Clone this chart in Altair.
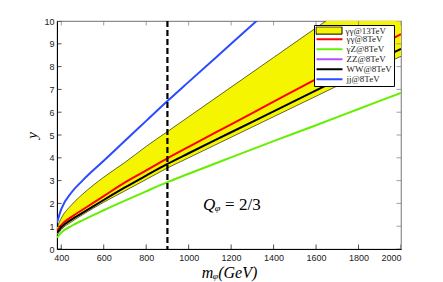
import altair as alt
import pandas as pd

# ---- data ----
mass = [380, 400, 450, 500, 600, 700, 800, 900, 1000, 1200, 1400, 1600, 1800, 2000]
band_hi = [0.95, 1.35, 1.95, 2.4, 3.15, 3.8, 4.5, 5.15, 5.8, 7.1, 8.4, 9.7, 11.0, 12.3]
band_lo = [0.6, 0.85, 1.2, 1.5, 2.05, 2.55, 3.05, 3.55, 4.0, 4.9, 5.8, 6.7, 7.6, 8.45]
aa8 = [0.8, 1.05, 1.42, 1.72, 2.32, 2.92, 3.45, 3.98, 4.48, 5.47, 6.46, 7.45, 8.44, 9.42]
az8 = [0.5, 0.72, 1.02, 1.26, 1.7, 2.12, 2.53, 2.93, 3.3, 4.02, 4.73, 5.43, 6.14, 6.85]
ww8 = [0.7, 0.95, 1.3, 1.58, 2.15, 2.7, 3.22, 3.73, 4.2, 5.12, 6.04, 6.96, 7.88, 8.78]
mass_jj = [380, 400, 450, 500, 600, 700, 800, 900, 1000, 1200, 1400]
jj8 = [1.15, 1.75, 2.5, 3.0, 3.87, 4.75, 5.62, 6.49, 7.33, 9.0, 10.67]

band_name = "γγ@13TeV"
series_names = ["γγ@8TeV", "γZ@8TeV", "ZZ@8TeV", "WW@8TeV", "jj@8TeV"]
series_colors = ["#ff0000", "#66ee00", "#b44cff", "#000000", "#2a4bff"]
band_color = "#f5f500"

x_ticks = [400, 600, 800, 1000, 1200, 1400, 1600, 1800, 2000]
y_ticks = [0, 1, 2, 3, 4, 5, 6, 7, 8, 9, 10]
x_domain = [380, 2000]
y_domain = [0, 10]
m_cut = [900]

x_title = "mᵩ(GeV)"
y_title = "y"
q_label = "Qᵩ"
q_value = "=  2/3"
q_pos = [1068, 1.93]

# ---- tables ----
band_df = pd.DataFrame({"m": mass, "hi": band_hi, "lo": band_lo, "name": band_name})
rows = []
for name, xs_, ys_ in [
    ("γγ@8TeV", mass, aa8),
    ("γZ@8TeV", mass, az8),
    ("WW@8TeV", mass, ww8),
    ("jj@8TeV", mass_jj, jj8),
]:
    for a, b in zip(xs_, ys_):
        rows.append({"m": a, "y": b, "series": name})
lines_df = pd.DataFrame(rows)
xt_df = pd.DataFrame({"m": x_ticks})
yt_df = pd.DataFrame({"y": y_ticks})
cut_df = pd.DataFrame({"m": m_cut})

serif = "Liberation Serif"
sans = "Liberation Sans"

xs = alt.Scale(domain=x_domain, nice=False, zero=False)
ys = alt.Scale(domain=y_domain, nice=False)
x_axis = alt.Axis(values=x_ticks, ticks=False, grid=False, domainColor="black", format="d",
                  labelOverlap=False,
                  labelFont=sans, labelFontSize=9, labelColor="#222", labelPadding=4,
                  title=x_title, titleFont=serif, titleFontStyle="italic",
                  titleFontWeight="normal", titleFontSize=16, titlePadding=2)
y_axis = alt.Axis(values=y_ticks, ticks=False, grid=False, domainColor="black", format="d",
                  labelOverlap=False,
                  labelFont=sans, labelFontSize=9, labelColor="#222", labelPadding=3,
                  title=y_title, titleFont=serif, titleFontStyle="italic",
                  titleFontWeight="normal", titleFontSize=15, titlePadding=4)

X = alt.X("m:Q", scale=xs, axis=x_axis)


def xd(v):
    return alt.XDatum(v, type="quantitative", scale=xs, axis=x_axis)


def yd(v):
    return alt.YDatum(v, type="quantitative", scale=ys, axis=y_axis)


band = alt.Chart(band_df).mark_area(clip=True, interpolate="monotone").encode(
    x=X,
    y=alt.Y("hi:Q", scale=ys, axis=y_axis),
    y2="lo:Q",
    fill=alt.Fill("name:N", scale=alt.Scale(domain=[band_name], range=[band_color]),
                  legend=alt.Legend(orient="none", legendX=257, legendY=4, title=None,
                                    symbolType="M-1,-0.28H1V0.28H-1Z", symbolSize=676,
                                    symbolStrokeColor="black", symbolStrokeWidth=1,
                                    symbolOpacity=1,
                                    clipHeight=8.0, padding=1.5, labelFont=serif,
                                    labelFontSize=9, labelOffset=3, labelColor="#222",
                                    zindex=2)),
)
edge_hi = alt.Chart(band_df).mark_line(clip=True, color="black", strokeWidth=0.6,
                                       interpolate="monotone").encode(
    x=X, y=alt.Y("hi:Q", scale=ys, axis=y_axis))
edge_lo = alt.Chart(band_df).mark_line(clip=True, color="black", strokeWidth=0.6,
                                       interpolate="monotone").encode(
    x=X, y=alt.Y("lo:Q", scale=ys, axis=y_axis))

lines = alt.Chart(lines_df).mark_line(clip=True, strokeWidth=2, interpolate="monotone").encode(
    x=X,
    y=alt.Y("y:Q", scale=ys, axis=y_axis),
    stroke=alt.Stroke("series:N", sort=series_names,
                      scale=alt.Scale(domain=series_names, range=series_colors),
                      legend=alt.Legend(orient="none", legendX=257, legendY=4, title="x",
                                        titleOpacity=0, titleFontSize=1, titlePadding=7.5,
                                        titleLineHeight=1,
                                        symbolType="stroke", symbolSize=676,
                                        symbolStrokeWidth=2, clipHeight=8.3, rowPadding=0,
                                        padding=1.5, labelFont=serif, labelFontSize=9,
                                        labelOffset=3, labelColor="#222",
                                        strokeColor="black", fillColor="white", zindex=1)),
)

cut = alt.Chart(cut_df).mark_rule(strokeDash=[6, 3], strokeWidth=2.2, color="black").encode(x=X)

tick_bot = alt.Chart(xt_df).mark_tick(clip=True, orient="vertical", size=9, thickness=1,
                                      color="black").encode(x=X, y=yd(y_domain[0]))
tick_top = alt.Chart(xt_df).mark_tick(clip=True, orient="vertical", size=9, thickness=1,
                                      color="#777").encode(x=X, y=yd(y_domain[1]))
tick_left = alt.Chart(yt_df).mark_tick(clip=True, orient="horizontal", size=9, thickness=1,
                                       color="black").encode(
    y=alt.Y("y:Q", scale=ys, axis=y_axis), x=xd(x_domain[0]))
tick_right = alt.Chart(yt_df).mark_tick(clip=True, orient="horizontal", size=9, thickness=1,
                                        color="#777").encode(
    y=alt.Y("y:Q", scale=ys, axis=y_axis), x=xd(x_domain[1]))

q1 = alt.Chart(pd.DataFrame({"t": [q_label]})).mark_text(
    font=serif, fontStyle="italic", fontSize=17, align="left", baseline="middle",
    color="black").encode(x=xd(q_pos[0]), y=yd(q_pos[1]), text="t:N")
q2 = alt.Chart(pd.DataFrame({"t": [q_value]})).mark_text(
    font=serif, fontSize=17, align="left", baseline="middle", dx=22,
    color="black").encode(x=xd(q_pos[0]), y=yd(q_pos[1]), text="t:N")

chart = alt.layer(band, edge_hi, edge_lo, lines, cut, tick_bot, tick_top, tick_left,
                  tick_right, q1, q2).properties(
    width=344, height=228,
    autosize=alt.AutoSizeParams(type="none"),
    padding={"left": 49, "top": 13, "right": 34, "bottom": 33},
).configure_view(stroke="#8c8c8c", strokeWidth=1.2)

chart.save("out.html", embed_options={"renderer": "svg", "actions": False})
